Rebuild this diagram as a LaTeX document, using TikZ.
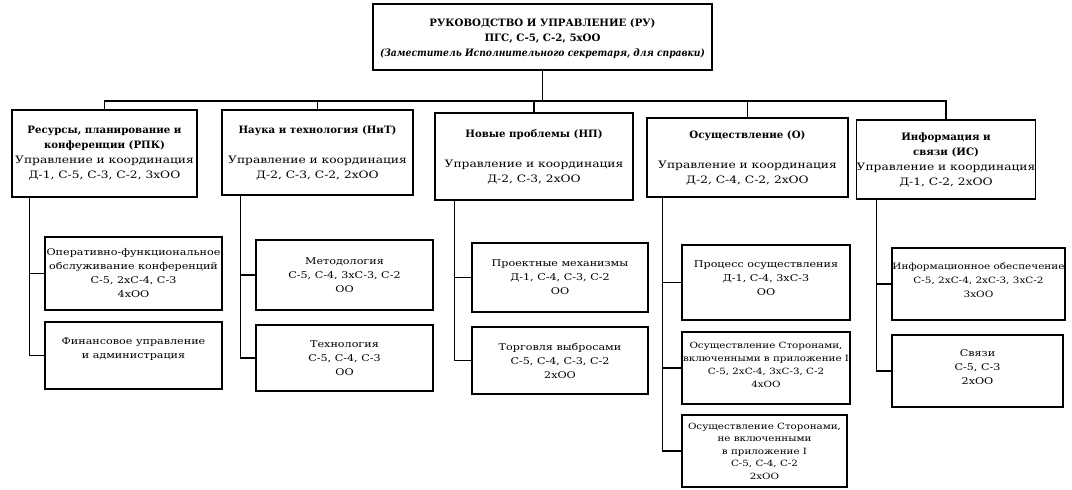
\documentclass[tikz,border=0pt]{standalone}
\usepackage{fontspec}
\setmainfont{DejaVu Serif}[UprightFeatures={FakeStretch=1.2}, ItalicFeatures={FakeStretch=1.1}, BoldFeatures={FakeStretch=1.0}, BoldItalicFeatures={FakeStretch=0.9}]
\begin{document}
\begin{tikzpicture}[x=1pt,y=-1pt,
  box/.style={draw, line width=1.1pt, inner sep=0pt, align=center, font=\fontsize{10.2}{15}\selectfont},
  sub/.style={box, font=\fontsize{9.3}{14}\selectfont},
  subs/.style={box, font=\fontsize{8.6}{13}\selectfont},
  conn/.style={line width=1.1pt}]
\useasboundingbox (0,0) rectangle (1072,490);
% top
\node[box, minimum width=339pt, minimum height=66pt] (top) at (542.5,37)
 {\mbox{}\\[-3pt]\textbf{РУКОВОДСТВО И УПРАВЛЕНИЕ (РУ)}\\\textbf{ПГС, С-5, С-2, 5хОО}\\\textbf{\textit{(Заместитель Исполнительного секретаря, для справки)}}};
% level 2
\node[box, minimum width=185pt, minimum height=87pt] (c1) at (104.5,153.5)
 {\textbf{Ресурсы, планирование и}\\\textbf{конференции (РПК)}\\Управление и координация\\Д-1, С-5, С-3, С-2, 3хОО};
\node[box, minimum width=191pt, minimum height=85pt] (c2) at (317.5,152.5)
 {\textbf{Наука и технология (НиТ)}\\\mbox{}\\Управление и координация\\Д-2, С-3, С-2, 2хОО};
\node[box, minimum width=198pt, minimum height=87pt] (c3) at (534,156.5)
 {\textbf{Новые проблемы (НП)}\\\mbox{}\\Управление и координация\\Д-2, С-3, 2хОО};
\node[box, minimum width=201pt, minimum height=79pt] (c4) at (747.5,157.5)
 {\textbf{Осуществление (О)}\\\mbox{}\\Управление и координация\\Д-2, С-4, С-2, 2хОО};
\node[box, minimum width=178pt, minimum height=79pt] (c5) at (946,159.5)
 {\textbf{Информация и}\\\textbf{связи (ИС)}\\Управление и координация\\Д-1, С-2, 2хОО};
% sub boxes
\node[sub, minimum width=177pt, minimum height=73pt] (s11) at (133.5,273.5)
 {Оперативно-функциональное\\обслуживание конференций\\С-5, 2хС-4, С-3\\4хОО};
\node[sub, minimum width=177pt, minimum height=67pt] (s12) at (133.5,355.5)
 {Финансовое управление\\и администрация\\\mbox{}};
\node[sub, minimum width=177pt, minimum height=70pt] (s21) at (344.5,275)
 {Методология\\С-5, С-4, 3хС-3, С-2\\ОО};
\node[sub, minimum width=177pt, minimum height=66pt] (s22) at (344.5,358)
 {Технология\\С-5, С-4, С-3\\ОО};
\node[sub, minimum width=176pt, minimum height=69pt] (s31) at (560,277.5)
 {Проектные механизмы\\Д-1, С-4, С-3, С-2\\ОО};
\node[sub, minimum width=176pt, minimum height=67pt] (s32) at (560,360.5)
 {Торговля выбросами\\С-5, С-4, С-3, С-2\\2хОО};
\node[sub, minimum width=168pt, minimum height=75pt] (s41) at (766,282.5)
 {Процесс осуществления\\Д-1, С-4, 3хС-3\\ОО\\[-6pt]\mbox{}};
\node[subs, minimum width=168pt, minimum height=72pt] (s42) at (766,368)
 {Осуществление Сторонами,\\включенными в приложение I\\С-5, 2хС-4, 3хС-3, С-2\\4хОО\\[-6pt]\mbox{}};
\node[subs, font=\fontsize{8.6}{12.5}\selectfont, minimum width=165pt, minimum height=72pt] (s43) at (764.5,451)
 {Осуществление Сторонами,\\не включенными\\в приложение I\\С-5, С-4, С-2\\2хОО};
\node[subs, font=\fontsize{8.7}{14}\selectfont, minimum width=173pt, minimum height=72pt] (s51) at (978.5,284)
 {Информационное обеспечение\\С-5, 2хС-4, 2хС-3, 3хС-2\\3хОО\\[-6pt]\mbox{}};
\node[sub, minimum width=171pt, minimum height=72pt] (s52) at (977.5,371)
 {Связи\\С-5, С-3\\2хОО\\[-6pt]\mbox{}};
% bus
\coordinate (bus) at (0,101);
\draw[conn] (top.south) -- (top.south |- bus);
\draw[conn] (c1.north) -- (c1.north |- bus) -- (c5.north |- bus) -- (c5.north);
\draw[conn] (c2.north) -- (c2.north |- bus);
\draw[conn] (c3.north) -- (c3.north |- bus);
\draw[conn] (c4.north) -- (c4.north |- bus);
% branches
\coordinate (b1) at ([xshift=18pt]c1.south west);
\coordinate (b2) at ([xshift=19pt]c2.south west);
\coordinate (b3) at ([xshift=20pt]c3.south west);
\coordinate (b4) at ([xshift=16pt]c4.south west);
\coordinate (b5) at ([xshift=20pt]c5.south west);
\draw[conn] (b1) |- (s11.west);
\draw[conn] (b1) |- (s12.west);
\draw[conn] (b2) |- (s21.west);
\draw[conn] (b2) |- (s22.west);
\draw[conn] (b3) |- (s31.west);
\draw[conn] (b3) |- (s32.west);
\draw[conn] (b4) |- (s41.west);
\draw[conn] (b4) |- (s42.west);
\draw[conn] (b4) |- (s43.west);
\draw[conn] (b5) |- (s51.west);
\draw[conn] (b5) |- (s52.west);
\end{tikzpicture}
\end{document}
